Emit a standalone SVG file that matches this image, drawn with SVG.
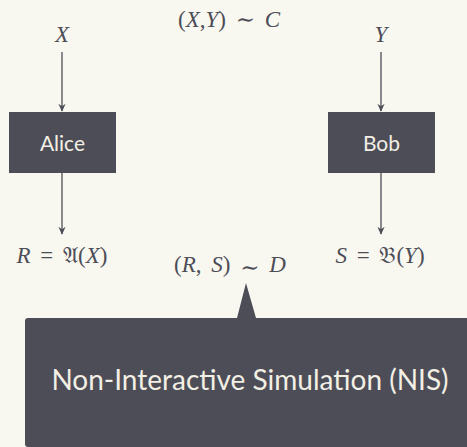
<svg xmlns="http://www.w3.org/2000/svg" width="467" height="447" viewBox="0 0 467 447">
  <defs>
    <marker id="arrow" viewBox="0 0 10 10" refX="9" refY="5" markerWidth="8" markerHeight="8" markerUnits="userSpaceOnUse" orient="auto">
      <path d="M0,0.5 L10,5 L0,9.5 L3,5 Z" fill="#4d4d58"/>
    </marker>
    <style>
      .box { fill: #4d4d58; }
      .lbl { font-family: "Lato", "DejaVu Sans", sans-serif; fill: #f2efe4; }
      .math { font-family: "Liberation Serif", "DejaVu Serif", serif; font-size: 23px; fill: #4d4d58; word-spacing: 4px; }
      .it { font-style: italic; }
      .edge { stroke: #4d4d58; stroke-width: 1.3; fill: none; marker-end: url(#arrow); }
    </style>
  </defs>
  <rect width="467" height="447" fill="#f9f8f0"/>

  <!-- labels above -->
  <text class="math it" x="62" y="42" text-anchor="middle">X</text>
  <text class="math" x="229" y="27" text-anchor="middle">(<tspan class="it">X</tspan>,<tspan class="it">Y</tspan>) ∼ <tspan class="it">C</tspan></text>
  <text class="math it" x="381" y="42" text-anchor="middle">Y</text>

  <g id="alice">
    <rect class="box" x="9" y="112" width="107" height="61"/>
    <text class="lbl" x="62.5" y="151" font-size="21" text-anchor="middle">Alice</text>
  </g>
  <g id="bob">
    <rect class="box" x="328" y="112" width="107" height="61"/>
    <text class="lbl" x="381.5" y="151" font-size="21" text-anchor="middle">Bob</text>
  </g>

  <g id="connectors">
    <line class="edge" x1="62" y1="52" x2="62" y2="111"/>
    <line class="edge" x1="381" y1="52" x2="381" y2="111"/>
    <line class="edge" x1="62" y1="173" x2="62" y2="234"/>
    <line class="edge" x1="381" y1="173" x2="381" y2="234"/>
  </g>

  <!-- outputs -->
  <text class="math" x="62" y="263" text-anchor="middle"><tspan class="it">R</tspan> = 𝔄(<tspan class="it">X</tspan>)</text>
  <text class="math" x="380" y="263" text-anchor="middle"><tspan class="it">S</tspan> = 𝔅(<tspan class="it">Y</tspan>)</text>
  <text class="math" x="230" y="272" text-anchor="middle">(<tspan class="it">R</tspan>, <tspan class="it">S</tspan>) <tspan dy="3">∼</tspan> <tspan dy="-3" class="it">D</tspan></text>

  <g id="nis">
    <path class="box" d="M28,318 L237,318 L246,283 L256,318 L467,318 L467,447 L28,447 Q25,447 25,444 L25,321 Q25,318 28,318 Z"/>
    <text class="lbl" x="250" y="390" font-size="28" text-anchor="middle">Non-Interactive Simulation (NIS)</text>
  </g>
</svg>
